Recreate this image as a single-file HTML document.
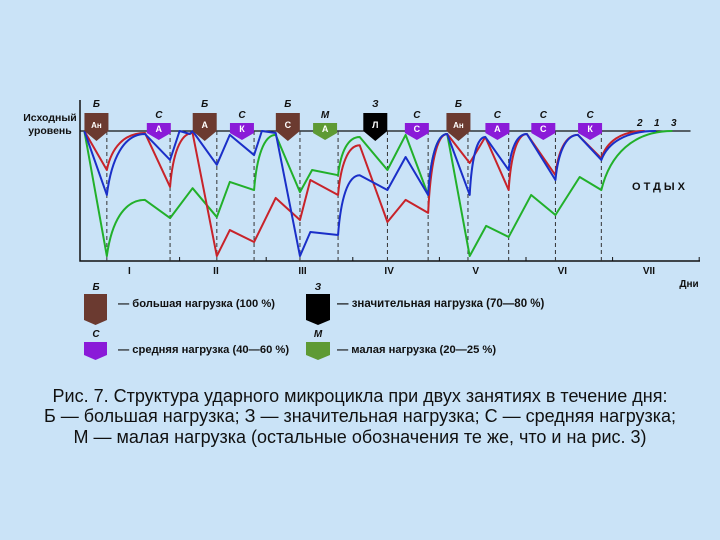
<!DOCTYPE html>
<html><head><meta charset="utf-8"><style>
body{margin:0;background:#cae3f7;}
svg{display:block;font-family:"Liberation Sans",sans-serif;}
</style></head><body>
<svg id="chart" width="720" height="540" viewBox="0 0 720 540">
<rect width="720" height="540" fill="#cae3f7"/>
<g id="axes"></g>
<g id="series"></g>
<g id="markers"></g>
<text x="50" y="121" text-anchor="middle" font-size="10.5" font-weight="bold" fill="#111">Исходный</text>
<text x="50" y="134" text-anchor="middle" font-size="10.5" font-weight="bold" fill="#111">уровень</text>
<text x="689" y="287" text-anchor="middle" font-size="10" font-weight="bold" fill="#111">Дни</text>
<text x="660" y="190" text-anchor="middle" font-size="11" font-weight="bold" letter-spacing="3" fill="#111">ОТДЫХ</text>
<text x="637" y="126" font-size="10" font-weight="bold" font-style="italic" fill="#111">2</text>
<text x="654" y="126" font-size="10" font-weight="bold" font-style="italic" fill="#111">1</text>
<text x="671" y="126" font-size="10" font-weight="bold" font-style="italic" fill="#111">3</text>
<g id="legend">
<text x="96" y="290" text-anchor="middle" font-size="10" font-weight="bold" font-style="italic" fill="#111">Б</text>
<path d="M84,294H107V320L95.5,325L84,320Z" fill="#6b3a30"/>
<text x="118" y="307" font-size="11.2" font-weight="bold" fill="#111">— большая нагрузка (100 %)</text>
<text x="318" y="290" text-anchor="middle" font-size="10" font-weight="bold" font-style="italic" fill="#111">З</text>
<path d="M306,294H330V320L318,325L306,320Z" fill="#000"/>
<text x="337" y="307" font-size="11.5" font-weight="bold" fill="#111">— значительная нагрузка (70—80 %)</text>
<text x="96" y="337" text-anchor="middle" font-size="10" font-weight="bold" font-style="italic" fill="#111">С</text>
<path d="M84,342H107V355L95.5,360L84,355Z" fill="#8a1ad8"/>
<text x="118" y="353" font-size="11.2" font-weight="bold" fill="#111">— средняя нагрузка (40—60 %)</text>
<text x="318" y="337" text-anchor="middle" font-size="10" font-weight="bold" font-style="italic" fill="#111">М</text>
<path d="M306,342H330V355L318,360L306,355Z" fill="#5e9a34"/>
<text x="337" y="353" font-size="11.2" font-weight="bold" fill="#111">— малая нагрузка (20—25 %)</text>
</g>
<g font-size="18" fill="#111" text-anchor="middle">
<text x="360" y="402">Рис. 7. Структура ударного микроцикла при двух занятиях в течение дня:</text>
<text x="360" y="422">Б — большая нагрузка; З — значительная нагрузка; С — средняя нагрузка;</text>
<text x="360" y="443">М — малая нагрузка (остальные обозначения те же, что и на рис. 3)</text>
</g>
</svg>
<script>
// data: time in days, level in % of initial
const dayLabels = ['I','II','III','IV','V','VI','VII'];
const sessionTimes = [0.31,1.04,1.58,2.01,2.54,2.98,3.55,4.02,4.48,4.95,5.49,6.02];
const blueT = [0.05,0.31,0.75,1.04,1.15,1.27,1.30,1.58,1.73,2.01,2.10,2.26,2.54,2.66,2.98,3.23,3.55,3.76,4.02,4.24,4.50,4.68,4.95,5.16,5.49,5.75,6.02,6.65];
const blueV = [100,50.8,97.7,77.7,100,97.7,100,74,97,81.5,100,98.5,3.8,22.3,20,66,54.6,80,50.8,97.7,50.8,95.4,70,97.7,62.3,97,77.7,100];
const blueC = [0,0,1,0,0,0,0,0,0,0,0,0,0,0,0,1,0,0,0,1,0,1,0,1,0,1,0,1];
const redT = [0.05,0.31,0.75,1.04,1.30,1.58,1.73,2.01,2.26,2.54,2.66,2.98,3.23,3.55,3.76,4.02,4.24,4.50,4.68,4.95,5.16,5.49,5.75,6.02,6.52];
const redV = [100,70,98.5,57,98.5,3.8,23.8,14.6,48.5,31.5,62.3,50.8,89,30,47,37,97.7,75.4,95.4,54.6,97.7,66,97,79,100];
const redC = [0,0,1,0,1,0,0,0,0,0,0,0,1,0,0,0,1,0,0,0,1,0,1,0,1];
const greenT = [0.05,0.31,0.75,1.04,1.30,1.58,1.73,2.01,2.26,2.54,2.68,2.98,3.23,3.55,3.76,4.02,4.24,4.50,4.69,4.95,5.21,5.49,5.77,6.02,6.84];
const greenV = [100,3.8,47,33,56,33.8,60.8,54.6,97,53,70,66,95.4,70,97,50.8,97.7,3.8,27,18.5,50.8,35.4,64.6,54.6,100];
const greenC = [0,0,1,0,0,0,0,0,1,0,0,0,1,0,0,0,1,0,0,0,0,0,0,0,1];
const markerT = [0.19,0.91,1.44,1.87,2.40,2.83,3.41,3.89,4.37,4.82,5.35,5.89];
const markerLoad = ['Б','С','Б','С','Б','М','З','С','Б','С','С','С'];
const markerText = ['Ан','А','А','К','С','А','Л','С','Ан','А','С','К'];

const NS='http://www.w3.org/2000/svg';
const X=t=>80+t*86.6;
const Y=v=>261-v*1.3;
function mk(tag,attrs,parent){const e=document.createElementNS(NS,tag);for(const k in attrs)e.setAttribute(k,attrs[k]);parent.appendChild(e);return e;}
const axes=document.getElementById('axes');
let a=mk('path',{d:`M80,100V261H700`,fill:'none',stroke:'#111','stroke-width':1.5},axes);


let bl=mk('line',{x1:80,x2:X(7.05),y1:Y(100),y2:Y(100),stroke:'#111','stroke-width':1.3},axes);


sessionTimes.forEach(t=>{
 const d=mk('line',{x1:X(t),x2:X(t),y1:Y(100),y2:261,stroke:'#333','stroke-width':1,'stroke-dasharray':'4,3'},axes);
 
 
});
for(let i=1;i<=7;i++){
 const tk=mk('line',{x1:X(i+0.15),x2:X(i+0.15),y1:257,y2:261,stroke:'#111'},axes);
 
 
}
dayLabels.forEach((l,i)=>{
 const tx=mk('text',{x:X(i+0.57),y:274,'text-anchor':'middle','font-size':10,'font-weight':'bold',fill:'#111'},axes);
 tx.textContent=l;
 
 
});
function pathFor(T,V,C){
 let d=`M${X(T[0])},${Y(V[0])}`;
 for(let i=1;i<T.length;i++){
  const x0=X(T[i-1]),y0=Y(V[i-1]),x1=X(T[i]),y1=Y(V[i]);
  if(C[i]){const dx=x1-x0,dy=y1-y0;d+=`C${x0+0.12*dx},${y0+0.6*dy} ${x0+0.45*dx},${y1} ${x1},${y1}`;}
  else d+=`L${x1},${y1}`;
 }
 return d;
}
const ser=document.getElementById('series');
let g=mk('path',{d:pathFor(greenT,greenV,greenC),fill:'none',stroke:'#22b02a','stroke-width':2,'stroke-linejoin':'round'},ser);


let r=mk('path',{d:pathFor(redT,redV,redC),fill:'none',stroke:'#c8232a','stroke-width':2,'stroke-linejoin':'round'},ser);


let b=mk('path',{d:pathFor(blueT,blueV,blueC),fill:'none',stroke:'#1a2fc8','stroke-width':2,'stroke-linejoin':'round'},ser);


const colors={'Б':'#6b3a30','С':'#8a1ad8','М':'#5e9a34','З':'#000'};
const mg=document.getElementById('markers');
markerT.forEach((t,i)=>{
 const cx=X(t),L=markerLoad[i],big=(L==='Б'||L==='З');
 const top=big?113:123,bot=big?131:133,tip=big?141:140;
 const p=mk('path',{d:`M${cx-12},${top}H${cx+12}V${bot}L${cx},${tip}L${cx-12},${bot}Z`,fill:colors[L]},mg);
 
 
 const tt=mk('text',{x:cx,y:big?128:132,'text-anchor':'middle','font-size':markerText[i].length>1?8:9,'font-weight':'bold',fill:'#fff'},mg);
 tt.textContent=markerText[i];
 
 
 const lt=mk('text',{x:cx,y:big?107:118,'text-anchor':'middle','font-size':10,'font-weight':'bold','font-style':'italic',fill:'#111'},mg);
 lt.textContent=L;
 
 
});
</script>
</body></html>
